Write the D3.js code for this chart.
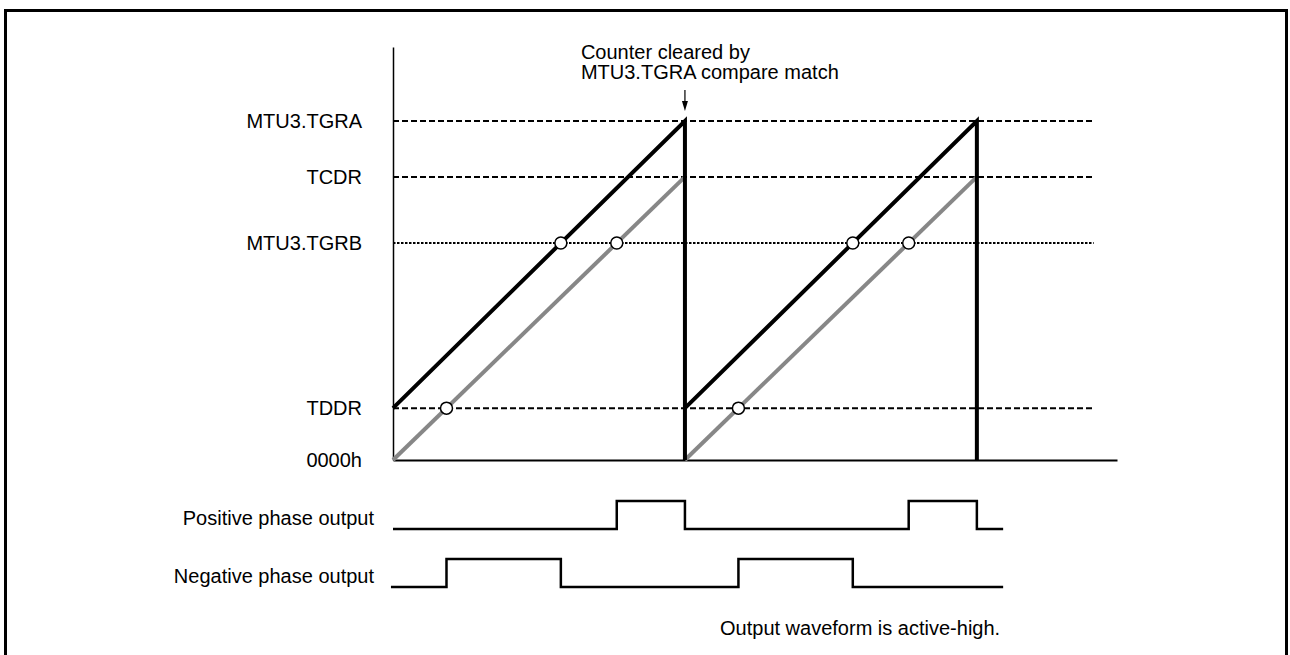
<!DOCTYPE html>
<html>
<head>
<meta charset="utf-8">
<script src="https://cdn.jsdelivr.net/npm/d3@7/dist/d3.min.js"></script>
<style>
  html, body { margin: 0; padding: 0; background: #fff; }
  svg { display: block; }
  text { font-family: "Liberation Sans", Arial, Helvetica, sans-serif; font-size: 20px; fill: #000; }
</style>
</head>
<body>
<svg id="chart" width="1290" height="655"></svg>
<script>
// ---- data ----
const levelNames  = ["MTU3.TGRA", "TCDR", "MTU3.TGRB", "TDDR", "0000h"];
const levelValues = [100, 83.5, 64, 15.3, 0];
const cycleStarts = [0, 1];          // counter cycles (time units, one period = 1)
const period = 1;
const axisEnd = 2.48;                // x axis extent (time)
const guideEnd = 2.4;                // dashed guide lines extent (time)
const waveEnd = 2.09;                // output waveforms extent (time)
const yAxisTop = 121.8;              // y axis extent (counter value)
const waveLabels = ["Positive phase output", "Negative phase output"];
const noteLines = ["Counter cleared by", "MTU3.TGRA compare match"];
const footNote = "Output waveform is active-high.";

const lv = Object.fromEntries(levelNames.map((n, i) => [n, levelValues[i]]));
const TGRA = lv["MTU3.TGRA"], TCDR = lv["TCDR"], TGRB = lv["MTU3.TGRB"], TDDR = lv["TDDR"];

// ---- layout ----
const svg = d3.select("#chart");
const x = d3.scaleLinear().domain([0, axisEnd]).range([393, 1117]);
const y = d3.scaleLinear().domain([0, TGRA]).range([460, 121]);

// frame
svg.append("rect").attr("x", 5.5).attr("y", 10.5).attr("width", 1281).attr("height", 720)
  .attr("fill", "none").attr("stroke", "#000").attr("stroke-width", 3);

// guide lines
const guides = levelNames.map((n, i) => ({ name: n, v: levelValues[i] })).filter(d => d.v > 0);
svg.append("g").selectAll("line").data(guides).join("line")
  .attr("x1", x(0)).attr("x2", x(guideEnd))
  .attr("y1", d => y(d.v)).attr("y2", d => y(d.v))
  .attr("stroke", "#000").attr("stroke-width", 2)
  .attr("stroke-dasharray", d => d.name === "MTU3.TGRB" ? "2.5,1.5" : "6,3");

// axes
const xAxis = svg.append("g").attr("transform", `translate(0,${y(0)})`)
  .call(d3.axisBottom(x).tickValues([]).tickSizeOuter(0));
xAxis.select(".domain").attr("stroke", "#000").attr("stroke-width", 2);
const yAxisScale = d3.scaleLinear().domain([0, yAxisTop]).range([y(0), y(yAxisTop)]);
const yAxis = svg.append("g").attr("transform", `translate(${x(0)},0)`)
  .call(d3.axisLeft(yAxisScale).tickValues([]).tickSizeOuter(0));
yAxis.select(".domain").attr("stroke", "#000").attr("stroke-width", 1.5);

// level labels
svg.append("g").selectAll("text").data(levelNames).join("text")
  .attr("x", 362).attr("y", (d, i) => y(levelValues[i]))
  .attr("dy", "0.35em").attr("text-anchor", "end").text(d => d);

// gray counter (compare value offset) lines
const line = d3.line().x(d => x(d[0])).y(d => y(d[1]));
svg.append("g").selectAll("path").data(cycleStarts).join("path")
  .attr("d", s => line([[s, 0], [s + period, TCDR]]))
  .attr("fill", "none").attr("stroke", "#878787").attr("stroke-width", 4);

// black counter sawtooth
svg.append("g").selectAll("path").data(cycleStarts).join("path")
  .attr("d", s => line([[s, TDDR], [s + period, TGRA], [s + period, 0]]))
  .attr("fill", "none").attr("stroke", "#000").attr("stroke-width", 4)
  .attr("stroke-linejoin", "miter");

// intersections
const blackCross = (s, L) => s + period * (L - TDDR) / (TGRA - TDDR);
const grayCross  = (s, L) => s + period * L / TCDR;
const pts = [];
cycleStarts.forEach(s => {
  pts.push([blackCross(s, TGRB), TGRB]);
  pts.push([grayCross(s, TGRB), TGRB]);
  pts.push([grayCross(s, TDDR), TDDR]);
});
svg.append("g").selectAll("circle").data(pts).join("circle")
  .attr("cx", d => x(d[0])).attr("cy", d => y(d[1])).attr("r", 6)
  .attr("fill", "#fff").attr("stroke", "#000").attr("stroke-width", 1.5);

// annotation
const ax = x(period);
svg.append("g").selectAll("text").data(noteLines).join("text")
  .attr("x", ax - 104).attr("y", (d, i) => 59 + i * 20).text(d => d);
svg.append("line").attr("x1", ax).attr("x2", ax).attr("y1", 90).attr("y2", 106)
  .attr("stroke", "#000").attr("stroke-width", 1.2);
svg.append("path").attr("d", `M${ax - 3},${101} L${ax},${111} L${ax + 3},${101} Z`).attr("fill", "#000");

// output waveforms
const posHigh = cycleStarts.map(s => [grayCross(s, TGRB), s + period]);
const negHigh = cycleStarts.map(s => [grayCross(s, TDDR), blackCross(s, TGRB)]);
function wave(intervals) {
  const p = [[0, 0]];
  intervals.forEach(([a, b]) => { p.push([a, 0], [a, 1], [b, 1], [b, 0]); });
  p.push([waveEnd, 0]);
  return p;
}
const waves = [
  { label: waveLabels[0], pts: wave(posHigh), low: 529, high: 501, start: 0 },
  { label: waveLabels[1], pts: wave(negHigh), low: 587, high: 559, start: -0.007 }
];
waves.forEach(w => {
  w.pts[0][0] = w.start;
  const wy = d3.scaleLinear().domain([0, 1]).range([w.low, w.high]);
  svg.append("path")
    .attr("d", d3.line().x(d => x(d[0])).y(d => wy(d[1]))(w.pts))
    .attr("fill", "none").attr("stroke", "#000").attr("stroke-width", 2.5)
    .attr("stroke-linejoin", "miter");
  svg.append("text").attr("x", 374).attr("y", w.low - 4).attr("text-anchor", "end").text(w.label);
});

svg.append("text").attr("x", x(waveEnd) - 3).attr("y", 635).attr("text-anchor", "end").text(footNote);
</script>
</body>
</html>
